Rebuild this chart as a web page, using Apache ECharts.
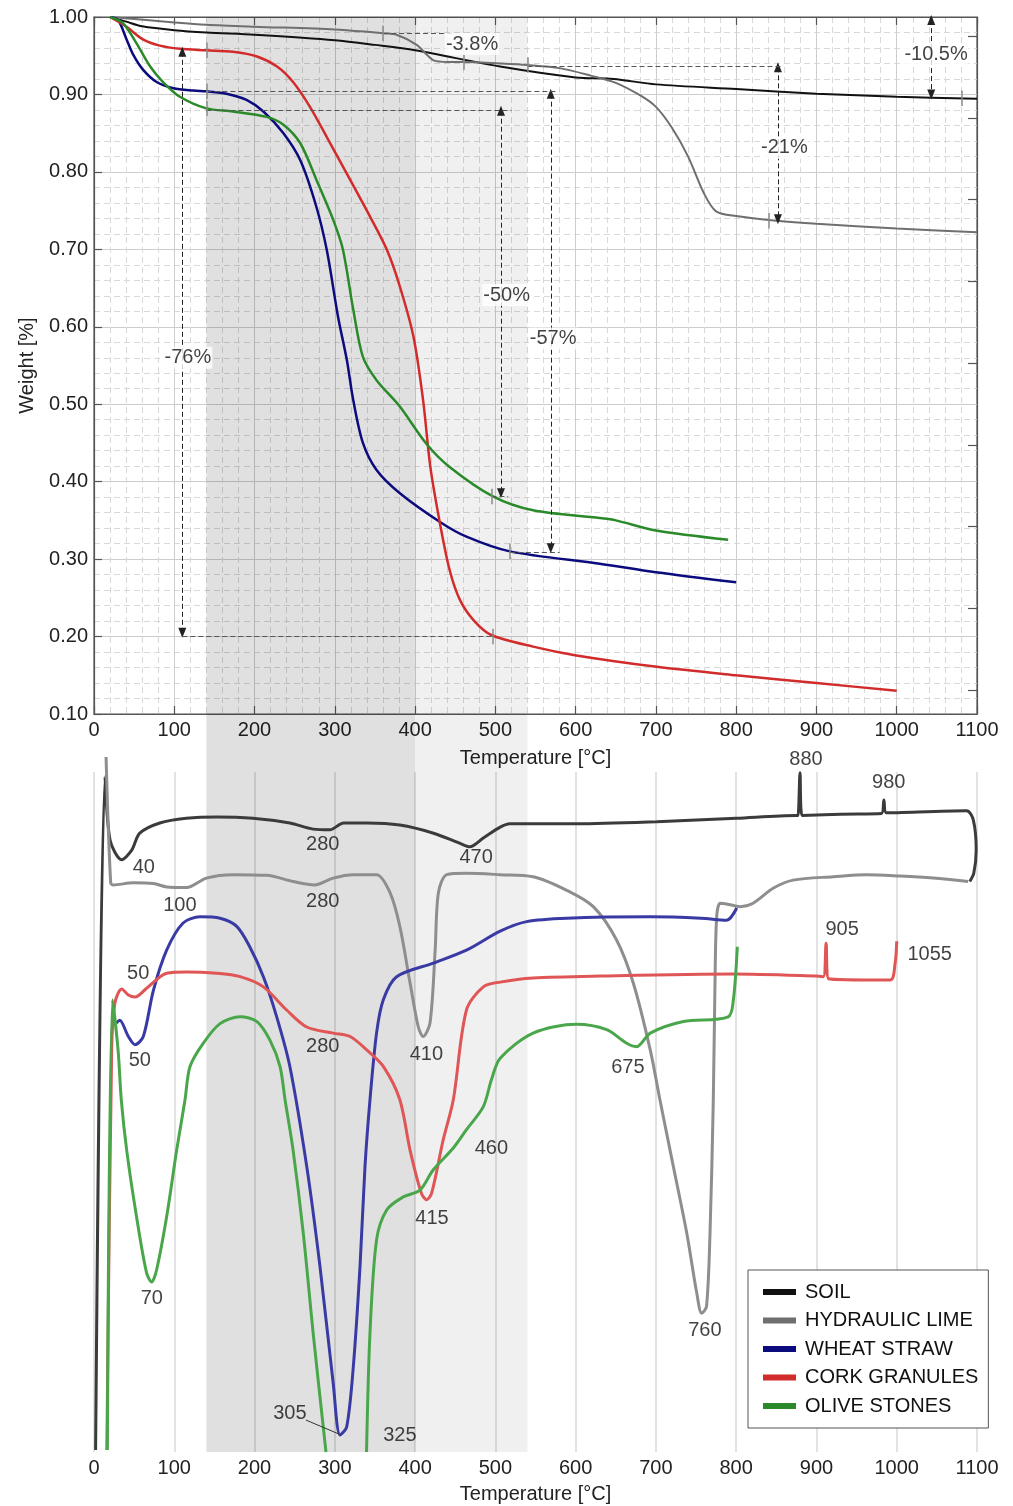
<!DOCTYPE html>
<html>
<head>
<meta charset="utf-8">
<title>TGA / DTA</title>
<script src="https://cdn.jsdelivr.net/npm/echarts@6.0.0/dist/echarts.min.js"></script>
<style>html,body{margin:0;padding:0;background:#fff}#main{width:1013px;height:1506px}</style>
</head>
<body>
<div id="main"></div>
<script>
// ---- TGA curves: temperature [°C] / weight fraction ----
var soilT = [20, 40, 60, 100, 140, 200, 300, 350, 400, 506, 600, 647, 700, 800, 900, 1000, 1100];
var soilW = [1.000, 0.994, 0.988, 0.983, 0.980, 0.977, 0.970, 0.964, 0.957, 0.936, 0.922, 0.920, 0.913, 0.907, 0.901, 0.897, 0.8945];

var limeT = [20, 100, 140, 200, 300, 350, 360, 377, 402, 415, 423, 440, 460, 506, 540, 580, 620, 650, 680, 700, 720, 740, 760, 775, 800, 850, 900, 1000, 1100];
var limeW = [1.000, 0.993, 0.990, 0.9875, 0.984, 0.980, 0.979, 0.977, 0.964, 0.951, 0.944, 0.942, 0.942, 0.940, 0.938, 0.934, 0.924, 0.915, 0.899, 0.884, 0.857, 0.820, 0.772, 0.749, 0.743, 0.737, 0.733, 0.727, 0.722];

var wheatT = [20, 30, 41, 49, 61, 78, 99, 124, 140, 165, 190, 211, 236, 257, 277, 290, 304, 315, 323, 335, 352, 381, 431, 464, 518, 630, 700, 800];
var wheatW = [1.000, 0.996, 0.970, 0.951, 0.932, 0.916, 0.908, 0.905, 0.904, 0.901, 0.893, 0.878, 0.850, 0.815, 0.755, 0.699, 0.613, 0.557, 0.505, 0.450, 0.415, 0.385, 0.348, 0.329, 0.310, 0.294, 0.283, 0.270];

var corkT = [20, 41, 61, 82, 107, 140, 173, 203, 228, 248, 269, 290, 319, 344, 365, 381, 398, 410, 419, 431, 443, 456, 473, 495, 547, 599, 701, 800, 900, 1000];
var corkW = [1.000, 0.987, 0.971, 0.963, 0.959, 0.957, 0.955, 0.949, 0.936, 0.916, 0.884, 0.845, 0.790, 0.742, 0.699, 0.652, 0.587, 0.505, 0.419, 0.346, 0.286, 0.247, 0.221, 0.202, 0.187, 0.176, 0.161, 0.150, 0.140, 0.130];

var oliveT = [20, 36, 53, 70, 86, 107, 140, 173, 215, 236, 257, 277, 298, 310, 323, 335, 352, 381, 414, 443, 497, 547, 630, 650, 700, 790];
var oliveW = [1.000, 0.992, 0.966, 0.936, 0.916, 0.897, 0.882, 0.878, 0.871, 0.861, 0.837, 0.790, 0.738, 0.700, 0.622, 0.561, 0.531, 0.497, 0.449, 0.419, 0.381, 0.363, 0.353, 0.350, 0.337, 0.325];

// ---- DTA curves: temperature [°C] / signal (arbitrary units, 0-100) ----
var soilDT = [2, 13.7, 20, 34.5, 47, 57, 82, 115, 153, 198, 244, 273, 294, 311, 340, 381, 423, 456, 468, 485, 506, 518, 547, 601, 701, 800, 875, 877, 879.5, 882, 930, 981, 984, 987, 1087, 1095.5, 1099, 1096, 1091];
var soilDV = [0.3, 99.3, 90.0, 87.1, 88.5, 91.0, 92.5, 93.2, 93.4, 93.2, 92.5, 91.6, 91.5, 92.5, 92.5, 92.2, 91.0, 89.5, 89.0, 90.3, 91.9, 92.4, 92.4, 92.4, 92.7, 93.2, 93.6, 93.6, 99.9, 93.6, 93.8, 93.9, 95.9, 94.0, 94.3, 92.9, 88.5, 85.1, 83.9];

var limeDT = [15, 20.8, 24, 49, 74, 90.5, 115.5, 140, 173.5, 215, 248, 275, 298, 323, 352, 369, 381, 393.7, 404, 410, 418.6, 425, 429, 439.4, 464, 506, 547, 589, 622, 651, 672, 693, 705, 721.7, 738.4, 751, 757, 763, 767.4, 771.5, 773.6, 775.7, 780, 788, 805, 821, 846, 871, 921, 962.6, 1004, 1045.6, 1089];
var limeDV = [102.2, 83.7, 83.4, 83.7, 83.6, 83.1, 83.0, 84.4, 84.9, 84.8, 83.9, 83.4, 84.4, 84.9, 84.9, 82.2, 77.3, 69.0, 62.5, 61.1, 63.1, 73.8, 82.2, 84.9, 85.1, 84.9, 84.6, 82.6, 80.2, 75.3, 68.9, 59.1, 51.8, 42.0, 32.2, 23.3, 20.4, 21.4, 32.2, 51.8, 69.0, 78.7, 80.7, 80.6, 80.2, 80.7, 82.9, 84.1, 84.6, 84.9, 84.7, 84.4, 83.9];

var wheatDT = [28.2, 32, 42.8, 51, 61.4, 74, 90.5, 111, 132, 157, 177.8, 194, 211, 227.6, 244, 265, 281.5, 298, 306.5, 314.8, 323, 331.4, 337.6, 343.8, 352, 360.4, 377, 422.7, 464, 506, 539, 589, 693, 756, 788, 800.7];
var wheatDV = [63.1, 63.5, 61.1, 59.9, 61.1, 67.9, 73.8, 77.8, 78.7, 78.5, 77.3, 74.3, 69.9, 64.0, 56.7, 42.0, 27.3, 10.1, 2.5, 3.7, 12.5, 27.3, 42.0, 51.8, 61.6, 66.5, 69.9, 71.9, 73.8, 76.6, 78.0, 78.5, 78.7, 78.5, 78.2, 80.0];

var corkDT = [16, 22, 26, 34.5, 42.8, 51, 65.6, 90.5, 115.5, 153, 182, 211, 240, 265, 298, 319, 340, 360.4, 381, 393.7, 408, 414.5, 420.7, 435, 447.6, 464, 485, 506, 547, 631.5, 796, 900, 908.5, 912, 915, 991.7, 998, 1000];
var corkDV = [0.3, 59.1, 66.0, 68.1, 67.2, 66.9, 68.2, 70.4, 70.6, 70.4, 69.9, 68.4, 65.0, 62.5, 61.6, 61.1, 59.1, 56.7, 51.8, 44.4, 38.0, 37.1, 38.1, 45.9, 51.8, 65.0, 68.4, 69.1, 69.7, 70.0, 70.3, 70.0, 69.9, 74.8, 69.6, 69.4, 71.9, 75.1];

var oliveDT = [16.6, 23, 30, 34, 40.7, 53, 65.6, 71.9, 78, 90.5, 103, 113.4, 119.6, 136, 157, 182, 203, 219, 231.7, 238, 248, 260.7, 273, 289, 314, 339.5, 343.8, 352, 364.6, 385, 406, 422.7, 447.6, 464, 485, 495, 506, 547, 601, 638.7, 663.5, 676, 693, 734.3, 790, 796.5, 801.4];
var oliveDV = [0.3, 66.5, 59.1, 51.8, 44.4, 34.6, 26.3, 25.0, 26.8, 34.6, 44.4, 51.8, 56.7, 60.1, 63.0, 64.0, 63.3, 60.6, 56.7, 51.8, 44.4, 32.2, 17.5, 0.0, null, 0.0, 17.5, 31.2, 35.6, 37.5, 38.5, 41.5, 44.7, 47.4, 50.8, 54.7, 57.9, 61.6, 62.9, 62.1, 60.1, 59.6, 61.6, 63.3, 64.0, 66.5, 74.3];

var seriesNames = ['SOIL', 'HYDRAULIC LIME', 'WHEAT STRAW', 'CORK GRANULES', 'OLIVE STONES'];
var tgaColors = ['#111111', '#6f6f6f', '#0b0b7e', '#d22b2b', '#2a8a2a'];
var dtaColors = ['#3b3b3b', '#8e8e8e', '#3a3aa5', '#e05555', '#4aa64a'];

// shaded temperature bands
var bandFrom = [140, 400];
var bandTo = [400, 540];
var bandColor = ['rgba(0,0,0,0.12)', 'rgba(0,0,0,0.06)'];

// TGA annotations (data coordinates)
var arrowLines = [[110, 0.955, 110, 0.205], [507, 0.879, 507, 0.385], [569, 0.901, 569, 0.314], [852, 0.935, 852, 0.739], [1043, 0.996, 1043, 0.900]];
var guideLines = [[110, 0.200, 497, 0.200], [140, 0.880, 520, 0.880], [140, 0.9036, 575, 0.9036], [518, 0.3095, 580, 0.3095], [495, 0.381, 516, 0.381], [360, 0.979, 450, 0.979], [540, 0.937, 857, 0.937]];
var curveMarks = [[140, 0.957], [497, 0.200], [140, 0.882], [495, 0.381], [140, 0.904], [518, 0.310], [360, 0.979], [460, 0.942], [540, 0.938], [840, 0.737], [1081, 0.895]];

var pctText = ['-3.8%', '-10.5%', '-21%', '-50%', '-57%', '-76%'];
var pctT = [471, 1049, 860, 514, 572, 117];
var pctW = [0.965, 0.951, 0.831, 0.641, 0.585, 0.560];

// right-hand frame ticks (secondary scale)
var rightTicks = [0.294, 1.294, 2.294, 3.294, 4.294, 5.294, 6.294, 7.294, 8.294];

// DTA peak labels
var dtaText = ['40', '280', '470', '880', '980', '100', '280', '410', '675', '760', '50', '50', '905', '1055', '280', '415', '460', '70', '305', '325'];
var dtaT = [62, 285, 476, 887, 990, 107, 285, 414, 665, 761, 55, 57, 932, 1041, 285, 421, 495, 72, 244, 381];
var dtaV = [85.9, 89.3, 87.5, 101.9, 98.4, 80.4, 80.9, 58.4, 56.5, 17.9, 70.4, 57.6, 76.9, 73.1, 59.6, 34.4, 44.7, 22.6, 5.6, 2.4];
var leader305 = [[264, 4.7], [306, 2.6]];

function pairs(xs, ys) {
    return xs.map(function (x, i) { return [x, ys[i] === null ? '-' : ys[i]]; });
}

var FONT = 'Liberation Sans, Arial, Helvetica, sans-serif';
var myChart = echarts.init(document.getElementById('main'));

var tga = [[soilT, soilW], [limeT, limeW], [wheatT, wheatW], [corkT, corkW], [oliveT, oliveW]];
var dta = [[soilDT, soilDV], [limeDT, limeDV], [wheatDT, wheatDV], [corkDT, corkDV], [oliveDT, oliveDV]];
var tgaWidth = [2, 2, 2.5, 2.5, 2.5];

var series = [];

// background bands spanning both panels
series.push({
    type: 'line', xAxisIndex: 3, yAxisIndex: 3, data: [], z: 1, silent: true,
    markArea: {
        silent: true,
        data: bandFrom.map(function (b, i) {
            return [{ xAxis: b, itemStyle: { color: bandColor[i] } }, { xAxis: bandTo[i] }];
        })
    }
});

tga.forEach(function (c, i) {
    series.push({
        name: seriesNames[i], type: 'line', xAxisIndex: 0, yAxisIndex: 0,
        data: pairs(c[0], c[1]), smooth: 0.3, showSymbol: false,
        lineStyle: { color: tgaColors[i], width: tgaWidth[i] }, itemStyle: { color: tgaColors[i] }, z: 3
    });
});

dta.forEach(function (c, i) {
    series.push({
        name: seriesNames[i], type: 'line', xAxisIndex: 2, yAxisIndex: 2,
        data: pairs(c[0], c[1]), smooth: 0.3, showSymbol: false, clip: false,
        lineStyle: { color: dtaColors[i], width: 3 }, itemStyle: { color: dtaColors[i] }, z: 3
    });
});

// dashed arrows
series.push({
    type: 'line', xAxisIndex: 0, yAxisIndex: 0, data: [], silent: true, z: 4,
    markLine: {
        silent: true, symbol: ['triangle', 'triangle'], symbolSize: [8, 10], label: { show: false },
        lineStyle: { type: [5, 3], color: '#222', width: 1 },
        data: arrowLines.map(function (a) { return [{ coord: [a[0], a[1]] }, { coord: [a[2], a[3]] }]; })
    }
});
// dashed guides
series.push({
    type: 'line', xAxisIndex: 0, yAxisIndex: 0, data: [], silent: true, z: 4,
    markLine: {
        silent: true, symbol: ['none', 'none'], label: { show: false },
        lineStyle: { type: [5, 3], color: '#555', width: 1 },
        data: guideLines.map(function (a) { return [{ coord: [a[0], a[1]] }, { coord: [a[2], a[3]] }]; })
    }
});
// small tick marks on curves
series.push({
    type: 'line', xAxisIndex: 0, yAxisIndex: 0, data: [], silent: true, z: 5,
    markLine: {
        silent: true, symbol: ['none', 'none'], label: { show: false },
        lineStyle: { type: 'solid', color: '#8a8a8a', width: 1.5 },
        data: curveMarks.map(function (a) { return [{ coord: [a[0], a[1] + 0.01] }, { coord: [a[0], a[1] - 0.01] }]; })
    }
});
// percentage labels
series.push({
    type: 'scatter', xAxisIndex: 0, yAxisIndex: 0, silent: true, z: 6, symbolSize: 1, clip: false,
    itemStyle: { color: 'rgba(0,0,0,0)' },
    label: {
        show: true, position: 'inside', color: '#111', fontSize: 20, fontFamily: FONT,
        backgroundColor: '#fff', padding: [1, 1],
        formatter: function (p) { return p.value[2]; }
    },
    data: pctText.map(function (t, i) { return [pctT[i], pctW[i], t]; })
});
// DTA peak labels
series.push({
    type: 'scatter', xAxisIndex: 2, yAxisIndex: 2, silent: true, z: 6, symbolSize: 1, clip: false,
    itemStyle: { color: 'rgba(0,0,0,0)' },
    label: {
        show: true, position: 'inside', color: '#111', fontSize: 20, fontFamily: FONT,
        formatter: function (p) { return p.value[2]; }
    },
    data: dtaText.map(function (t, i) { return [dtaT[i], dtaV[i], t]; }),
    markLine: {
        silent: true, symbol: ['none', 'none'], label: { show: false },
        lineStyle: { type: 'solid', color: '#333', width: 1 },
        data: [[{ coord: leader305[0] }, { coord: leader305[1] }]]
    }
});

var plainNum = function (v) { return String(v); };

myChart.setOption({
    animation: false,
    textStyle: { fontFamily: FONT },
    legend: {
        data: seriesNames, orient: 'vertical', left: 748, top: 1270,
        padding: [12, 10, 12, 15], itemGap: 8.5, itemWidth: 33, itemHeight: 6, icon: 'rect',
        borderColor: '#555', borderWidth: 1, backgroundColor: '#fff',
        textStyle: { fontSize: 20, color: '#111', fontFamily: FONT, padding: [0, 0, 0, 4] }
    },
    grid: [
        { left: 94, right: 36, top: 17, bottom: 792, show: true, borderColor: '#555', borderWidth: 1.2, containLabel: false },
        { left: 94, right: 36, top: 772, bottom: 54, containLabel: false },
        { left: 94, right: 36, top: 17, bottom: 54, containLabel: false }
    ],
    xAxis: [
        {
            gridIndex: 0, type: 'value', min: 0, max: 1100, interval: 100,
            name: 'Temperature [°C]', nameLocation: 'middle', nameGap: 34,
            nameTextStyle: { fontSize: 20, color: '#222', fontFamily: FONT },
            axisLine: { show: true, onZero: false, lineStyle: { color: '#555', width: 1.2 } },
            axisTick: { show: true, inside: true, length: 8, lineStyle: { color: '#555', width: 1.2 } },
            axisLabel: { fontSize: 20, color: '#222', margin: 6, fontFamily: FONT, formatter: plainNum },
            splitLine: { show: true, lineStyle: { color: '#cdcdcd', width: 1 } },
            minorTick: { show: false, splitNumber: 5 },
            minorSplitLine: { show: true, lineStyle: { color: '#d9d9d9', width: 1, type: [6, 4] } }
        },
        {
            gridIndex: 0, type: 'value', min: 0, max: 1100, interval: 100, position: 'top',
            axisLine: { show: true, onZero: false, lineStyle: { color: '#555', width: 1.2 } },
            axisTick: { show: true, inside: true, length: 8, lineStyle: { color: '#555', width: 1.2 } },
            axisLabel: { show: false }, splitLine: { show: false }
        },
        {
            gridIndex: 1, type: 'value', min: 0, max: 1100, interval: 100,
            name: 'Temperature [°C]', nameLocation: 'middle', nameGap: 32,
            nameTextStyle: { fontSize: 20, color: '#222', fontFamily: FONT },
            axisLine: { show: false, onZero: false }, axisTick: { show: false },
            axisLabel: { fontSize: 20, color: '#222', margin: 6, fontFamily: FONT, formatter: plainNum },
            splitLine: { show: true, lineStyle: { color: '#d9d9d9', width: 1.5 } }
        },
        {
            gridIndex: 2, type: 'value', min: 0, max: 1100, show: false
        }
    ],
    yAxis: [
        {
            gridIndex: 0, type: 'value', min: 0.1, max: 1.0, interval: 0.1,
            name: 'Weight [%]', nameLocation: 'middle', nameGap: 57, nameRotate: 90,
            nameTextStyle: { fontSize: 20, color: '#222', fontFamily: FONT },
            axisLine: { show: true, onZero: false, lineStyle: { color: '#555', width: 1.2 } },
            axisTick: { show: true, inside: true, length: 8, lineStyle: { color: '#555', width: 1.2 } },
            axisLabel: { fontSize: 20, color: '#222', margin: 6, fontFamily: FONT, formatter: function (v) { return v.toFixed(2); } },
            splitLine: { show: true, lineStyle: { color: '#cdcdcd', width: 1 } },
            minorTick: { show: false, splitNumber: 5 },
            minorSplitLine: { show: true, lineStyle: { color: '#d9d9d9', width: 1, type: [6, 4] } }
        },
        {
            gridIndex: 0, type: 'value', min: 0, max: 8.53, position: 'right',
            axisLine: { show: true, onZero: false, lineStyle: { color: '#555', width: 1.2 } },
            axisTick: { show: true, inside: true, length: 9, lineStyle: { color: '#555', width: 1.2 }, customValues: rightTicks },
            axisLabel: { show: false }, splitLine: { show: false }
        },
        {
            gridIndex: 1, type: 'value', min: 0, max: 100, show: false, splitLine: { show: false }
        },
        {
            gridIndex: 2, type: 'value', min: 0, max: 1, show: false
        }
    ],
    series: series
});
</script>
</body>
</html>
